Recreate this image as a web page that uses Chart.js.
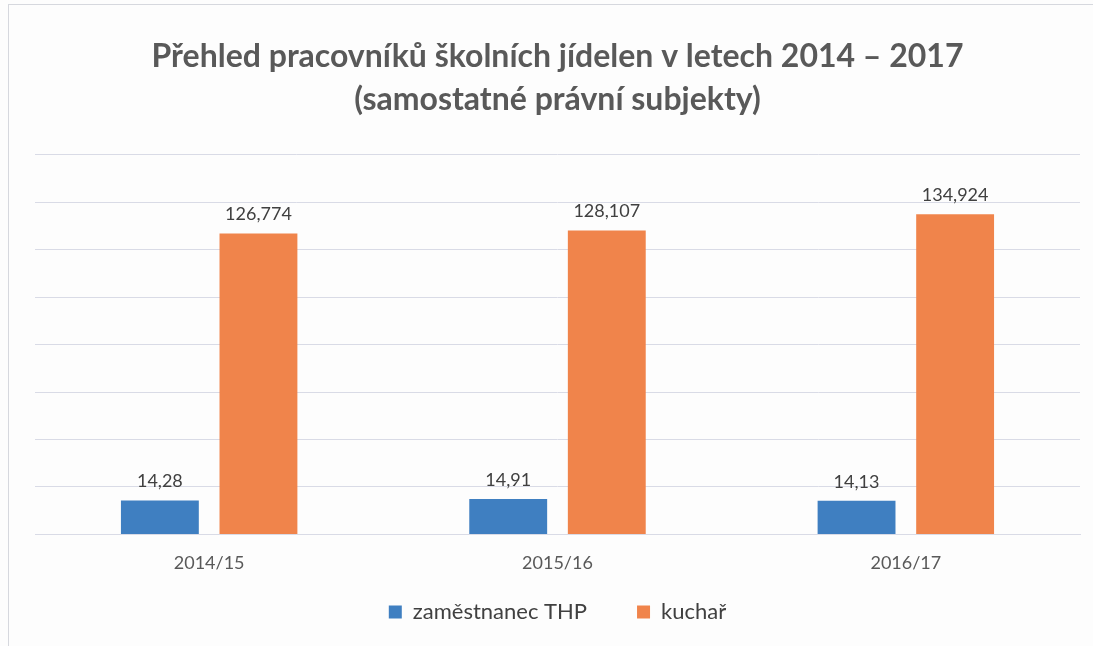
<!DOCTYPE html>
<html lang="cs">
<head>
<meta charset="utf-8">
<title>Přehled pracovníků školních jídelen</title>
<script src="https://cdn.jsdelivr.net/npm/chart.js@4/dist/chart.umd.min.js"></script>
<style>
  html, body { margin: 0; padding: 0; background: #fdfdfd; }
  #wrap { position: relative; width: 1093px; height: 646px; }
  #frame { position: absolute; left: 8px; top: 4px; right: -2px; bottom: -2px;
           border: 1px solid #d6d8de; pointer-events: none; }
</style>
</head>
<body>
<div id="wrap">
  <canvas id="chart" width="1093" height="646"></canvas>
  <div id="frame"></div>
</div>
<script>
const categories = ['2014/15', '2015/16', '2016/17'];
const thpValues = [14.28, 14.91, 14.13];
const kucharValues = [126.774, 128.107, 134.924];
const seriesNames = ['zaměstnanec THP', 'kuchař'];
const titleLines = ['Přehled pracovníků školních jídelen v letech 2014 – 2017', '(samostatné právní subjekty)'];

const FONT = 'Lato, "Open Sans", sans-serif';
const BLUE = '#3f7fc1';
const ORANGE = '#f0844b';

// values are printed with a decimal comma, as in the source
const formatValue = (v) => String(v).replace('.', ',');

const valueLabels = {
    id: 'valueLabels',
    afterDatasetsDraw(chart) {
        const ctx = chart.ctx;
        ctx.save();
        ctx.font = `18px ${FONT}`;
        ctx.fillStyle = '#404040';
        ctx.textAlign = 'center';
        ctx.textBaseline = 'bottom';
        chart.data.datasets.forEach((ds, i) => {
            const meta = chart.getDatasetMeta(i);
            meta.data.forEach((bar, j) => {
                ctx.fillText(formatValue(ds.data[j]), bar.x, bar.y - 10);
            });
        });
        ctx.restore();
    }
};

new Chart(document.getElementById('chart'), {
    type: 'bar',
    data: {
        labels: categories,
        datasets: [
            { label: seriesNames[0], data: thpValues, backgroundColor: BLUE },
            { label: seriesNames[1], data: kucharValues, backgroundColor: ORANGE }
        ]
    },
    options: {
        responsive: false,
        animation: false,
        devicePixelRatio: 1,
        categoryPercentage: 0.566,
        barPercentage: 0.79,
        layout: { padding: { left: 35, right: 13, top: 35, bottom: 13 } },
        plugins: {
            title: {
                display: true,
                text: titleLines,
                color: '#595959',
                font: { family: FONT, size: 32, weight: 'bold', lineHeight: 1.34 },
                padding: { top: 0, bottom: 34 }
            },
            legend: {
                position: 'bottom',
                labels: {
                    color: '#404040',
                    font: { family: FONT, size: 22 },
                    boxWidth: 13,
                    boxHeight: 13,
                    padding: 17,
                    generateLabels(chart) {
                        return chart.data.datasets.map((ds, i) => ({
                            text: i === 0 ? ds.label + '\u2003\u2003' : ds.label,
                            fillStyle: ds.backgroundColor,
                            strokeStyle: ds.backgroundColor,
                            lineWidth: 0,
                            fontColor: '#404040',
                            datasetIndex: i
                        }));
                    }
                }
            },
            tooltip: { enabled: false }
        },
        scales: {
            x: {
                grid: { display: false },
                border: { color: '#d9dbe6', width: 1 },
                ticks: { color: '#595959', font: { family: FONT, size: 18 }, padding: 10 }
            },
            y: {
                min: 0,
                max: 160,
                ticks: { display: false, stepSize: 20 },
                border: { display: false },
                grid: { color: '#d9dbe6', lineWidth: 1, drawTicks: false }
            }
        }
    },
    plugins: [valueLabels]
});
</script>
</body>
</html>
